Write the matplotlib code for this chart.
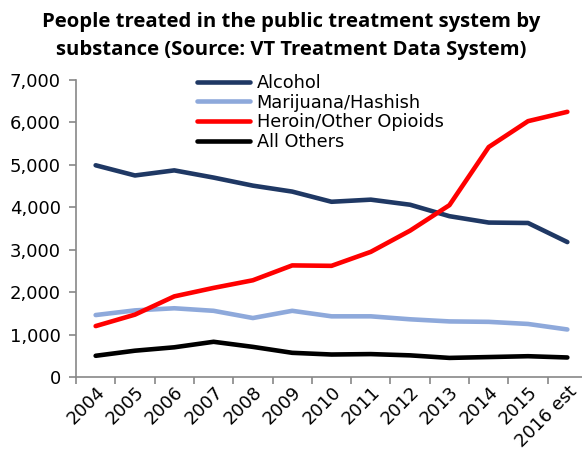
import matplotlib
matplotlib.use("Agg")
import matplotlib.pyplot as plt

years = ["2004", "2005", "2006", "2007", "2008", "2009", "2010", "2011",
         "2012", "2013", "2014", "2015", "2016 est"]
alcohol = [4990, 4750, 4870, 4700, 4510, 4370, 4130, 4180, 4060, 3790, 3640, 3630, 3180]
marijuana = [1460, 1570, 1620, 1560, 1390, 1560, 1430, 1430, 1360, 1310, 1300, 1250, 1120]
heroin = [1200, 1470, 1900, 2100, 2280, 2630, 2620, 2950, 3450, 4050, 5420, 6030, 6250]
others = [500, 620, 700, 830, 710, 570, 530, 540, 510, 450, 470, 490, 460]
yticks = [0, 1000, 2000, 3000, 4000, 5000, 6000, 7000]

series = [("Alcohol", alcohol, "#1F3864"),
          ("Marijuana/Hashish", marijuana, "#8EA9DB"),
          ("Heroin/Other Opioids", heroin, "#FF0000"),
          ("All Others", others, "#000000")]

W, H = 582, 462
fig = plt.figure(figsize=(W / 100, H / 100), dpi=100)
left, right, top, bottom = 76, 587, 80, 377
ax = fig.add_axes([left / W, 1 - bottom / H, (right - left) / W, (bottom - top) / H])

font = "DejaVu Sans"
x = list(range(len(years)))
for name, vals, col in series:
    ax.plot(x, vals, color=col, lw=3.3, label=name, solid_capstyle="round")

ax.set_xlim(-0.5, len(years) - 0.5)
ax.set_ylim(0, 7000)
ax.set_yticks(yticks)
ax.set_yticklabels([f"{v:,}" for v in yticks], fontsize=13, family=font)
ax.set_xticks([i - 0.5 for i in range(len(years) + 1)])
ax.set_xticklabels([])
ax.set_xticks(x, minor=True)
ax.set_xticklabels(years, minor=True, rotation=45, ha="right", rotation_mode="anchor",
                   fontsize=13, family=font)
ax.tick_params(axis="x", which="minor", length=0, pad=4)
ax.tick_params(axis="x", which="major", length=5, color="#888888", width=1.2)
ax.tick_params(axis="y", length=5, color="#888888", width=1.2, pad=6)
for s in ["top", "right"]:
    ax.spines[s].set_visible(False)
for s in ["left", "bottom"]:
    ax.spines[s].set_color("#888888")
    ax.spines[s].set_linewidth(1.2)

leg = ax.legend(loc="upper left", bbox_to_anchor=(0.223, 1.045), frameon=False,
                prop={"family": font, "size": 12.8}, handlelength=3.0,
                handletextpad=0.35, labelspacing=0.1, borderaxespad=0)

fig.text(0.5, 1 - 22 / H, "People treated in the public treatment system by",
         ha="center", va="center", fontsize=14.6, fontweight="bold", family="Open Sans")
fig.text(0.5, 1 - 50 / H, "substance (Source: VT Treatment Data System)",
         ha="center", va="center", fontsize=14.6, fontweight="bold", family="Open Sans")

fig.savefig("out.png", dpi=100)
